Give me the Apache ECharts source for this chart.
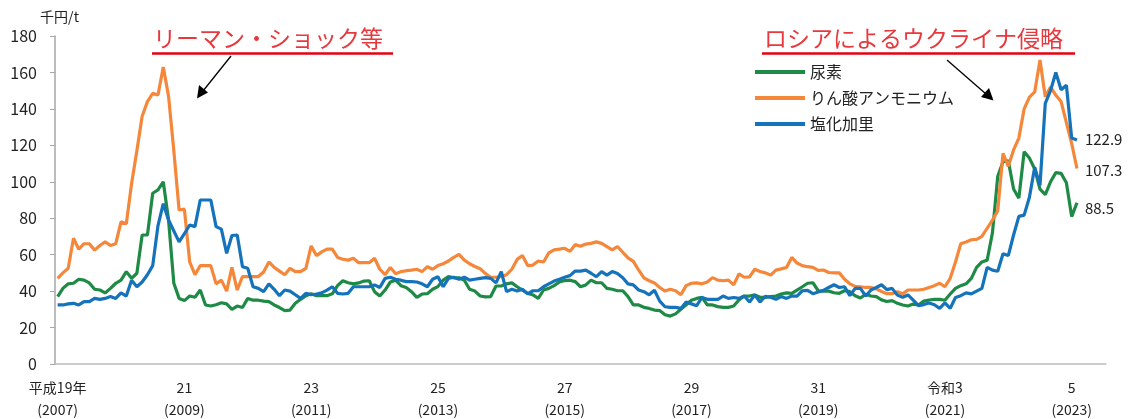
<!DOCTYPE html>
<html><head><meta charset="utf-8">
<script src="https://cdn.jsdelivr.net/npm/echarts@6/dist/echarts.min.js"></script>
<style>html,body{margin:0;padding:0;background:#fff}#c{width:1131px;height:419px}</style>
</head><body><div id="c"></div>
<script>
// ---- data ----
const startYear = 2007, axisMonths = 199; // 2007-01 .. 2023-07
const seriesNames = ['尿素', 'りん酸アンモニウム', '塩化加里'];
const urea = [37,41.5,44,44.3,46.5,46,44.5,41,40.6,39,41.5,44.3,46,50.7,47,49.8,70.8,70.8,93.7,95.5,100,79,44.3,36,34.8,37.3,36.6,40.6,32.4,31.8,32.5,33.6,33,30,31.8,31,36,35,35,34.5,34.2,32.4,31,29.3,29.6,33.3,35.5,37.5,38.5,37.5,37.5,37.5,38.5,43,45.7,44.6,44,44.5,45.5,45.7,39.7,37.3,40.6,45,46,43,42,39.7,36.6,38.4,38.6,41,42.5,46,48,47.3,47.3,46,41,40,37.3,36.8,37,42.8,42.8,44,44.5,42.4,40.5,38.8,37.9,36,40.6,41.5,43,45,45.8,46,45.2,42.4,43.4,46,44.6,44.6,41.5,41,40.2,40.2,37,32.4,32.4,31.1,30.5,29.6,29.3,27,26.3,27.5,30,32.5,35,36,36.6,32.4,32.4,31.5,31.1,31.1,31.8,35.1,37.3,37.3,37.9,36.6,36.6,37,37.3,38.4,39,38.8,40.6,42.4,44.3,44.6,40.2,40,40,39.1,38.8,40.2,39.7,37.5,36.2,38.3,37.3,37,35.2,34.3,34.8,33.3,32.4,31.8,32.9,32.4,34.5,35.1,35.5,35.5,35,38.4,41.5,43,44,47,53,56,57,72,103,111,111.5,96,91,116.5,113,107,96,93,100,105,104.6,99.5,80.9,88.5];
const dap = [47,50,52.5,69,63,66,66,62.5,65,67,65,66,78,77,99,117,136,144,148.5,147.6,163,147,117,84.5,85,56,49,54,54,54,44,46,40,53,40.6,48,48,48,48,50.5,56,53,51,49,52.5,50.7,50.7,52.5,64.8,59.5,61.5,63,63,58.5,57.5,57,58,55.6,55.6,55.6,58,52,49,53,49.5,50.7,51.2,51.5,52,50.7,53.4,52,54,55,56.5,58.5,60.2,57,55,53.5,52.3,49.6,47.6,47.6,48,49,52,57.4,59.5,54,54.3,56.5,56,61,62.6,63,63.5,61.8,65.5,64.6,65.8,66.2,67,66.2,64.4,62.6,64.5,61.3,58.2,56.3,51.6,47.3,45.7,44.5,42,40,41,40.2,38,43,44.3,44.5,44,45,47.4,46,45.7,46,43.4,49.4,47.6,47.8,52,50.8,50,48.8,51.5,52.2,53,58.5,55.4,54,53.4,53,51.4,51.6,50.2,50,50,46.5,44,42.6,42.4,42,42,41.2,39.8,38.6,38.6,39.7,38.5,40.6,40.6,40.6,41,42,43,44.3,42.4,47,56,66,67,68.2,68.4,70,74.5,79,84,115.6,108.5,117.5,124,140,146.5,149.3,166.8,146.7,152,147.5,144,132.5,121,107.3];
const potash = [32.4,32.4,33,33.3,32.4,34.2,34.2,36,35.5,36,37,36,39,37.3,46,42.4,45,49,54,76,88,79,73,67,71.5,76.3,75.4,90,90,90,75.4,74,60.7,70.5,70.8,53.4,52.5,42.4,41.5,39.7,44,41,37.5,40.6,40,38,36,38.8,38,38.4,39,40.5,42.4,38.8,38.4,38.8,42.4,42.4,42.4,42.4,43.4,42,47,47.6,46.5,46,45.2,45.2,45,44,42.4,46.5,47.9,42.4,47,47.6,46.5,47.6,46,46.5,47,47.4,47,44.5,50.7,39.7,41,40,41,38.5,40.2,40.2,42.4,44,45.5,46.5,47.6,48.5,51,51,51.5,49.8,47.9,50.7,48.8,50.7,49.6,47.3,44,43.4,40.6,39.7,38,40.5,34.5,31.4,31.1,31.1,30.5,34,33,32,36.5,35.5,35.5,35.5,37.3,36,36.5,36,37.3,34,37.9,34,37.2,36.6,35.5,37,36,37.3,37.3,40.2,40.4,38.6,39.5,40.4,42,43.5,42,42.4,37.5,41.5,41.5,37.3,40.6,42,43.5,40.8,41.5,37.8,36.6,37.9,35,32,32.6,33.5,32.5,30.5,33.5,30.5,36.5,37.5,39,38.5,40,41.5,53,51.5,50.9,60.5,59.5,70.8,81,81.7,91.5,108,98,143,150,160,150.5,153,124,122.9];
const tickMonths = ['2007-01','2009-01','2011-01','2013-01','2015-01','2017-01','2019-01','2021-01','2023-01'];
const tickEra = ['平成19年','21','23','25','27','29','31','令和3','5'];
const tickYear = ['(2007)','(2009)','(2011)','(2013)','(2015)','(2017)','(2019)','(2021)','(2023)'];
const yTicks = {min: 0, max: 180, step: 20};
const annoLeft = 'リーマン・ショック等';
const annoRight = 'ロシアによるウクライナ侵略';
const unitLabel = '千円/t';

// ---- categories ----
const months = [];
for (let i = 0; i < axisMonths; i++) {
  const y = startYear + Math.floor(i / 12), m = i % 12 + 1;
  months.push(y + '-' + String(m).padStart(2, '0'));
}

const FONT = '"Noto Sans CJK JP", "Noto Sans", sans-serif';
const colors = ['#1f8a45', '#f5873a', '#1473ba'];
const labelOffsets = [[0, 6], [0, 2], [0, -1]];
const seriesData = [urea, dap, potash];

const chart = echarts.init(document.getElementById('c'), null, {renderer: 'canvas'});
chart.setOption({
  animation: false,
  backgroundColor: '#fff',
  textStyle: {fontFamily: FONT},
  grid: {left: 55, right: 25, top: 36, bottom: 55, containLabel: false},
  legend: {
    orient: 'vertical', left: 750, top: 57, itemWidth: 50, itemHeight: 4, itemGap: 6,
    icon: 'rect',
    textStyle: {fontFamily: FONT, fontSize: 16, color: '#222', lineHeight: 20, padding: [0, 0, 0, 0]},
    data: seriesNames
  },
  xAxis: {
    type: 'category', data: months, boundaryGap: true,
    axisLine: {lineStyle: {color: '#bdbdbd', width: 1.5}},
    axisTick: {show: false},
    axisLabel: {
      interval: (idx, val) => tickMonths.indexOf(val) >= 0,
      margin: 13,
      formatter: (val) => { const k = tickMonths.indexOf(val); return k < 0 ? '' : '{a|' + tickEra[k] + '}\n{b|' + tickYear[k] + '}'; },
      rich: {
        a: {fontFamily: FONT, fontSize: 14, color: '#222', lineHeight: 22},
        b: {fontFamily: FONT, fontSize: 14, color: '#222', lineHeight: 22}
      }
    },
    splitLine: {show: false}
  },
  yAxis: {
    type: 'value', min: yTicks.min, max: yTicks.max, interval: yTicks.step,
    axisLine: {show: true, lineStyle: {color: '#a6a6a6', width: 1.5}},
    axisTick: {show: true, length: 5, lineStyle: {color: '#a6a6a6'}},
    axisLabel: {fontFamily: FONT, fontSize: 16, color: '#222', margin: 18},
    splitLine: {show: false}
  },
  series: seriesNames.map((n, k) => ({
    name: n, type: 'line', data: seriesData[k], symbol: 'none', smooth: false,
    lineStyle: {color: colors[k], width: 3.2}, itemStyle: {color: colors[k]},
    endLabel: {show: true, formatter: (p) => p.value.toFixed(1), fontFamily: FONT, fontSize: 15, color: '#222', distance: 8, offset: labelOffsets[k]}
  })),
  graphic: [
    {type: 'text', left: 40, top: 10, style: {text: unitLabel, font: '14px ' + FONT, fill: '#222'}},
    {type: 'text', x: 153, y: 38, style: {text: annoLeft, font: '23px ' + FONT, fill: '#e8383d', textVerticalAlign: 'middle'}},
    {type: 'line', shape: {x1: 152, y1: 53.5, x2: 393, y2: 53.5}, style: {stroke: '#e60012', lineWidth: 2.5}},
    {type: 'line', shape: {x1: 231, y1: 56, x2: 203, y2: 91}, style: {stroke: '#000', lineWidth: 1.3}},
    {type: 'polygon', shape: {points: [[197, 98.5], [199, 85], [208, 92.5]]}, style: {fill: '#000'}},
    {type: 'text', x: 764, y: 38, style: {text: annoRight, font: '23px ' + FONT, fill: '#e8383d', textVerticalAlign: 'middle'}},
    {type: 'line', shape: {x1: 762, y1: 53.5, x2: 1075, y2: 53.5}, style: {stroke: '#e60012', lineWidth: 2.5}},
    {type: 'line', shape: {x1: 947, y1: 60, x2: 986, y2: 94}, style: {stroke: '#000', lineWidth: 1.3}},
    {type: 'polygon', shape: {points: [[993.5, 100.5], [981, 97], [989, 88]]}, style: {fill: '#000'}}
  ]
});
</script></body></html>
